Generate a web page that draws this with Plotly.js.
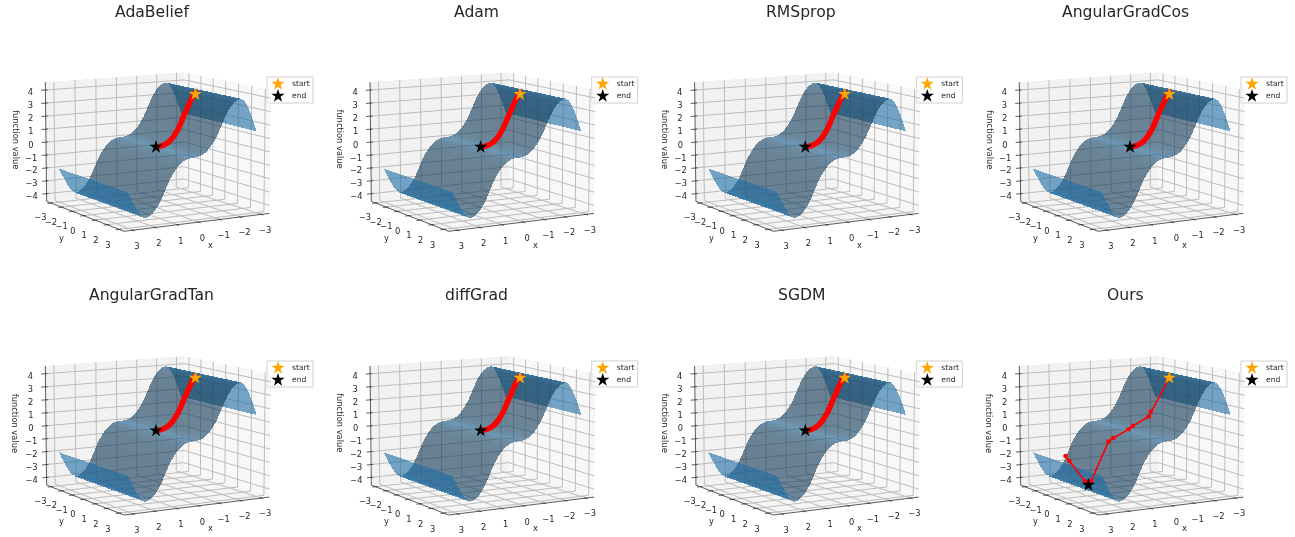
<!DOCTYPE html>
<html><head><meta charset="utf-8">
<script src="https://cdn.plot.ly/plotly-3.0.1.min.js"></script>
<style>html,body{margin:0;padding:0;background:#fff}#c{width:1295px;height:537px;filter:blur(0.3px)}.js-fill{shape-rendering:crispEdges}</style></head>
<body><div id="c"></div>
<script>
const titles=['AdaBelief','Adam','RMSprop','AngularGradCos','AngularGradTan','diffGrad','SGDM','Ours'];
const gridX=[-3,-2.875,-2.75,-2.625,-2.5,-2.375,-2.25,-2.125,-2,-1.875,-1.75,-1.625,-1.5,-1.375,-1.25,-1.125,-1,-0.875,-0.75,-0.625,-0.5,-0.375,-0.25,-0.125,0,0.125,0.25,0.375,0.5,0.625,0.75,0.875,1,1.125,1.25,1.375,1.5,1.625,1.75,1.875,2,2.125,2.25,2.375,2.5,2.625,2.75,2.875,3];
const gridZ=[1.5,2.1,2.65,3.15,3.55,3.85,4,3.98,3.88,3.72,3.5,3.2,2.85,2.4,1.95,1.5,1.15,0.85,0.58,0.38,0.22,0.11,0.04,0.01,0,-0.01,-0.04,-0.11,-0.22,-0.38,-0.58,-0.85,-1.15,-1.5,-1.95,-2.4,-2.85,-3.2,-3.5,-3.72,-3.88,-3.98,-4,-3.85,-3.6,-3.25,-2.85,-2.45,-2];
const pathX=[-1.98,-1.85,-1.75,-1.625,-1.5,-1.375,-1.25,-1.125,-1,-0.875,-0.75,-0.625,-0.5,-0.375,-0.25,-0.125,0];
const pathY=[0,0,0,0,0,0,0,0,0,0,0,0,0,0,0,0,0];
const pathZ=[4,3.75,3.5,3.15,2.7,2.3,1.85,1.4,1.05,0.75,0.5,0.32,0.19,0.1,0.04,0.01,0];
const oursX=[-1.9,-1.04,-0.9,-0.4,-0.1,0.7,0.82,1.63,1.75,1.7,1.42,1.45];
const oursY=[0,-0.05,0,-0.46,-0.29,-0.17,-0.36,-0.38,-0.41,-0.78,-2.7,-3];
const oursZ=[3.75,1.3,0.95,0.18,0.02,-0.5,-0.78,-3.65,-3.95,-3.8,-2.85,-2.55];
const startPoint=[-1.9,0,3.75];
const endPoint=[0,0,0];
const oursEnd=[1.75,-0.41,-3.95];
const axisTicksXY=[-3,-2,-1,0,1,2,3];
const axisTicksZ=[-4,-3,-2,-1,0,1,2,3,4];
const tickLabel=v=>v<0?'\u2212'+(-v):String(v);

const cxs=[156,480.7,805.3,1130], cys=[147,430.7];
const legLeft=[267,591.7,916.3,1241], legTop=[77,361], titleX=[151.5,476.3,801,1125.5], titleY=[12,295];
const W=1295,H=537,L=150,R=158,T=138,B=104;
const S=164,BX=1,BZ=0.75,DIST=10,ELEV=9.5,AZIM=60;
const XM=3.4,ZM=4.6;
const az=AZIM*Math.PI/180,el=ELEV*Math.PI/180;
const eye=[Math.cos(az)*Math.cos(el),Math.sin(az)*Math.cos(el),Math.sin(el)];
const right=[-Math.sin(az),Math.cos(az),0];
const up=[-Math.cos(az)*Math.sin(el),-Math.sin(az)*Math.sin(el),Math.cos(el)];
function proj(x,y,z){
  const p=[x/XM*0.5*BX,y/XM*0.5*BX,z/ZM*0.5*BZ];
  const d=p[0]*eye[0]+p[1]*eye[1]+p[2]*eye[2];
  const f=DIST/(DIST-d);
  return [(p[0]*right[0]+p[1]*right[1])*f,(p[0]*up[0]+p[1]*up[1]+p[2]*up[2])*f];
}
function series(pts){const u=[],v=[];pts.forEach(p=>{if(!p){u.push(null);v.push(null);return;}const q=proj(p[0],p[1],p[2]);u.push(q[0]);v.push(q[1]);});return [u,v];}
function strip(i){
  const s=(gridZ[i+1]-gridZ[i])/(gridX[i+1]-gridX[i]);
  const n=Math.hypot(s,1);
  const dot=((-s)*(-0.6667)+1*0.3333)/n;
  const k=0.3+0.7*(dot+1)/2;
  return `rgba(${Math.round(31*k)},${Math.round(119*k)},${Math.round(180*k)},0.6)`;
}
const traces=[];
const layout={width:W,height:H,margin:{l:0,r:0,t:0,b:0},paper_bgcolor:'#fff',plot_bgcolor:'rgba(0,0,0,0)',showlegend:false,annotations:[],shapes:[]};
titles.forEach((t,i)=>{
  const r=i<4?0:1,c=i%4,sfx=i?String(i+1):'';
  const cx=cxs[c],cy=cys[r];
  const xa='x'+sfx,ya='y'+sfx;
  layout['xaxis'+sfx]={visible:false,fixedrange:true,anchor:ya,domain:[(cx-L)/W,(cx+R)/W],range:[-L/S,R/S]};
  layout['yaxis'+sfx]={visible:false,fixedrange:true,anchor:xa,domain:[1-(cy+B)/H,1-(cy-T)/H],range:[-B/S,T/S]};
  const add=(pts,o)=>{const q=series(pts);traces.push(Object.assign({type:'scatter',x:q[0],y:q[1],xaxis:xa,yaxis:ya,hoverinfo:'skip',cliponaxis:false},o));};
  const poly=(pts,col)=>add(pts.concat([pts[0]]),{mode:'lines',fill:'toself',fillcolor:col,line:{width:0,color:col}});
  poly([[-XM,-XM,-ZM],[-XM,XM,-ZM],[-XM,XM,ZM],[-XM,-XM,ZM]],'rgba(242,242,242,0.5)');
  poly([[-XM,-XM,-ZM],[XM,-XM,-ZM],[XM,-XM,ZM],[-XM,-XM,ZM]],'rgba(230,230,230,0.5)');
  poly([[-XM,-XM,-ZM],[XM,-XM,-ZM],[XM,XM,-ZM],[-XM,XM,-ZM]],'rgba(236,236,236,0.5)');
  const g=[];
  axisTicksXY.forEach(v=>{g.push([v,-XM,ZM],[v,-XM,-ZM],[v,XM,-ZM],null);g.push([-XM,v,ZM],[-XM,v,-ZM],[XM,v,-ZM],null);});
  axisTicksZ.forEach(v=>{g.push([XM,-XM,v],[-XM,-XM,v],[-XM,XM,v],null);});
  add(g,{mode:'lines',line:{color:'#bcbcbc',width:1}});
  const e=[[-XM,XM,-ZM],[XM,XM,-ZM],[XM,-XM,-ZM],[XM,-XM,ZM],null];
  axisTicksXY.forEach(v=>{e.push([v,XM-0.1,-ZM],[v,XM+0.15,-ZM],null);e.push([XM-0.1,v,-ZM],[XM+0.15,v,-ZM],null);});
  axisTicksZ.forEach(v=>{e.push([XM-0.1,-XM,v],[XM+0.2,-XM,v],null);});
  add(e,{mode:'lines',line:{color:'#333',width:0.8}});
  const tf={size:8.3,color:'#262626',family:'DejaVu Sans'};
  add(axisTicksXY.map(v=>[v,XM+0.3,-ZM-1.12]),{mode:'text',text:axisTicksXY.map(tickLabel),textfont:tf,textposition:'middle center'});
  add(axisTicksXY.map(v=>[XM+0.5,v,-ZM-1.1]),{mode:'text',text:axisTicksXY.map(tickLabel),textfont:tf,textposition:'middle center'});
  add(axisTicksZ.map(v=>[XM+0.7,-XM,v-0.15]),{mode:'text',text:axisTicksZ.map(tickLabel),textfont:tf,textposition:'middle center'});
  for(let k=0;k<gridX.length-1;k++){
    poly([[gridX[k],-3,gridZ[k]],[gridX[k],3,gridZ[k]],[gridX[k+1],3,gridZ[k+1]],[gridX[k+1],-3,gridZ[k+1]]],strip(k));
  }
  const ours=i===7;
  const px=ours?oursX:pathX,py=ours?oursY:pathY,pz=ours?oursZ:pathZ;
  const pts=px.map((v,k)=>[v,py[k],pz[k]]);
  if(ours){
    add(pts,{mode:'lines+markers',line:{color:'#ff0000',width:1.6},marker:{color:'#ff0000',size:4.5},name:'path'});
  } else {
    add(pts,{mode:'lines',line:{color:'#ff0000',width:5.5,shape:'spline',smoothing:1},name:'path'});
  }
  add([startPoint],{mode:'markers',name:'start',marker:{symbol:'star',size:10,color:'#ffa500',line:{width:0}}});
  add([ours?oursEnd:endPoint],{mode:'markers',name:'end',marker:{symbol:'star',size:10,color:'#000',line:{width:0}}});
  const at=(p,text,angle)=>{const q=proj(p[0],p[1],p[2]);layout.annotations.push({text,x:q[0],y:q[1],xref:xa,yref:ya,showarrow:false,textangle:angle,xanchor:'center',yanchor:'middle',font:{size:8.3,family:'DejaVu Sans',color:'#262626'}});};
  at([0,4.3,-5.95],'x',0);
  at([4.4,0,-6.05],'y',0);
  at([4.5,-4.1,0.2],'function value',90);
  layout.annotations.push({text:t,xref:'paper',yref:'paper',x:titleX[c]/W,y:1-titleY[r]/H,xanchor:'center',yanchor:'middle',showarrow:false,font:{size:15.6,family:'DejaVu Sans',color:'#262626'}});
  const lx=legLeft[c],ly=legTop[r];
  layout.shapes.push({type:'rect',xref:'paper',yref:'paper',x0:lx/W,x1:(lx+46)/W,y0:1-ly/H,y1:1-(ly+26)/H,fillcolor:'rgba(255,255,255,0.8)',line:{color:'#d0d0d0',width:1},layer:'below'});
  const leg=(dy,name,col)=>{
    const lu=(lx+11-cx)/S,tu=(lx+25-cx)/S,lv=(cy-(ly+dy))/S;
    traces.push({type:'scatter',xaxis:xa,yaxis:ya,x:[lu],y:[lv],mode:'markers',marker:{symbol:'star',size:10,color:col,line:{width:0}},hoverinfo:'skip',cliponaxis:false,name});
    traces.push({type:'scatter',xaxis:xa,yaxis:ya,x:[tu],y:[lv],mode:'text',text:[name],textposition:'middle right',textfont:{size:7.6,color:'#262626',family:'DejaVu Sans'},hoverinfo:'skip',cliponaxis:false,name});
  };
  leg(7,'start','#ffa500');leg(19,'end','#000');
});
Plotly.newPlot('c',traces,layout,{displayModeBar:false,staticPlot:true});
</script></body></html>
